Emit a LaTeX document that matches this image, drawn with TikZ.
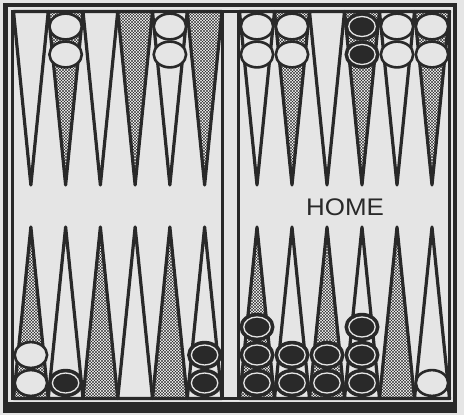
\documentclass[tikz,border=0pt]{standalone}
\usepackage{fontspec}
\usepackage{graphicx}
\newfontfamily\homefont{Liberation Sans}
\usetikzlibrary{patterns}
\definecolor{bg}{gray}{0.9}
\definecolor{ink}{gray}{0.16}
\pgfdeclarepatternformonly{stipple}{\pgfqpoint{-1pt}{-1pt}}{\pgfqpoint{4pt}{4pt}}{\pgfqpoint{3pt}{3pt}}{%
  \pgfpathcircle{\pgfqpoint{0pt}{0pt}}{0.62pt}%
  \pgfpathcircle{\pgfqpoint{3pt}{0pt}}{0.62pt}%
  \pgfpathcircle{\pgfqpoint{0pt}{3pt}}{0.62pt}%
  \pgfpathcircle{\pgfqpoint{3pt}{3pt}}{0.62pt}%
  \pgfpathcircle{\pgfqpoint{1.5pt}{1.5pt}}{0.62pt}%
  \pgfusepath{fill}}
\tikzset{
  pt/.style={draw=ink, line width=3.2pt, line join=round},
  wpt/.style={pt, fill=bg},
  dpt/.style={pt, preaction={fill=bg}, pattern=stipple, pattern color=ink},
  frameline/.style={draw=ink, line width=3pt},
  wchk/.pic={\draw[fill=bg, draw=ink, line width=2.6pt] (0,0) ellipse [x radius=16.2pt, y radius=12.9pt];},
  bchk/.pic={\draw[fill=ink, draw=ink, line width=2.6pt] (0,0) ellipse [x radius=16.2pt, y radius=12.9pt];
             \draw[draw=bg, line width=1.3pt] (0,0) ellipse [x radius=13.2pt, y radius=10pt];}
}
\begin{document}
\begin{tikzpicture}[x=1pt,y=-1pt]
\useasboundingbox (0,0) rectangle (464,415);
\fill[bg] (0,0) rectangle (464,415);
% outer frame with shadow
\fill[ink] (3,3) rectangle (457,413);
\fill[bg] (8,7) rectangle (453,402);
\fill[bg] (12.5,11.5) rectangle (449.5,398.5);
% points
\foreach \i/\ts/\bs in {0/wpt/dpt,1/dpt/wpt,2/wpt/dpt,3/dpt/wpt,4/wpt/dpt,5/dpt/wpt}{
  \pgfmathsetmacro\xl{13.5+34.75*\i}
  \pgfmathsetmacro\xr{\xl+34.75}
  \pgfmathsetmacro\xc{\xl+17.375}
  \path[\ts] (\xl,11.5) -- (\xc,185) -- (\xr,11.5) -- cycle;
  \path[\bs] (\xl,398.5) -- (\xc,227) -- (\xr,398.5) -- cycle;
  \pgfmathsetmacro\yl{239.5+35*\i}
  \pgfmathsetmacro\yr{\yl+35}
  \pgfmathsetmacro\yc{\yl+17.5}
  \path[\ts] (\yl,11.5) -- (\yc,185) -- (\yr,11.5) -- cycle;
  \path[\bs] (\yl,398.5) -- (\yc,227) -- (\yr,398.5) -- cycle;
}
% inner frame and bar
\draw[frameline] (12.5,11.5) rectangle (449.5,398.5);
\draw[frameline] (222.5,11.5) -- (222.5,398.5);
\draw[frameline] (238.5,11.5) -- (238.5,398.5);
% checkers top
\foreach \x in {65.6,169.9,257,292,397,432}{
  \pic at (\x,26.5) {wchk};
  \pic at (\x,54.5) {wchk};
}
\pic at (362,26.5) {bchk};
\pic at (362,54.5) {bchk};
% checkers bottom left
\pic at (30.9,355) {wchk};
\pic at (30.9,383) {wchk};
\pic at (65.6,383) {bchk};
\pic at (204.6,355) {bchk};
\pic at (204.6,383) {bchk};
% checkers bottom right
\foreach \x/\n in {257/3,292/2,327/2,362/3}{
  \pic at (\x,383) {bchk};
  \pic at (\x,355) {bchk};
  \ifnum\n=3 \pic at (\x,327) {bchk};\fi
}
\pic at (432,383) {wchk};
% label
\node[text=ink, font=\homefont\fontsize{24}{24}\selectfont, inner sep=0pt] (home) at (345,207.5) {\scalebox{1.08}[1]{HOME}};
\end{tikzpicture}
\end{document}
